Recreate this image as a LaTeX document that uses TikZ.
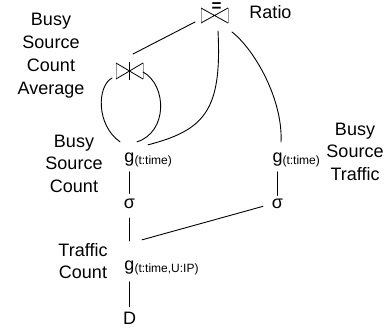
\documentclass[tikz,border=0pt]{standalone}
\usepackage{fontspec}
\setmainfont{Liberation Sans}
\usetikzlibrary{calc}
\tikzset{
  conn/.style={line width=0.9pt, line cap=round},
  sym/.style={inner sep=0pt, outer sep=0pt, anchor=base, font=\fontsize{18}{22}\selectfont},
  lbl/.style={inner sep=0pt, outer sep=0pt, align=center, anchor=north, font=\fontsize{18}{22.5}\selectfont},
  joinbox/.style={inner sep=0pt, outer sep=0pt, minimum width=27pt, minimum height=15pt},
  tri side/.style={line width=0.8pt, black!40},
  tri diag/.style={line width=0.8pt, black},
}
% grouping operator: g with its attribute list as a subscript
\newcommand\grp[1]{g\rlap{\smash{\raisebox{-2.5pt}{\fontsize{12}{12}\selectfont(#1)}}}}

\begin{document}
\begin{tikzpicture}[x=1pt,y=-1pt]
\useasboundingbox (0,0) rectangle (390,330);

% join operators
\node[joinbox] (j1) at (214.5,15.5) {};
\node[joinbox, minimum height=16pt] (j2) at (129.5,71) {};
\foreach \j in {j1,j2}{
  \draw[tri side] (\j.north west) -- (\j.south west) (\j.north east) -- (\j.south east);
  \draw[tri diag] (\j.north west) -- (\j.south east) (\j.south west) -- (\j.north east);
}
\draw[line width=1.8pt] ([yshift=1pt]j2.north) -- ([yshift=-1pt]j2.south);
\node[inner sep=0pt, font=\fontsize{17}{17}\selectfont\bfseries] (eq) at (216.5,7.5) {=};

% labels
\node[lbl, font=\fontsize{18}{23}\selectfont] (t1) at (51,13) {Busy\\Source\\Count\\Average};
\node[lbl] (t2) at (74,135) {Busy\\Source\\Count};
\node[lbl] (t3) at (355,123) {Busy\\Source\\Traffic};
\node[lbl, font=\fontsize{18}{22}\selectfont] (t4) at (83,243) {Traffic\\Count};
\node[sym] (ratio) at (270.5,18) {Ratio};

% operators
\node[sym] (g1) at (129.5,162) {\grp{t:time}};
\node[sym] (s1) at (129.5,208) {σ};
\node[sym] (g3) at (129.5,270) {\grp{t:time,U:IP}};
\node[sym] (d)  at (129.5,324) {D};
\node[sym] (g2) at (277.5,162) {\grp{t:time}};
\node[sym] (s2) at (277.5,208) {σ};

% plan edges
\draw[conn, shorten <=6pt, shorten >=5pt] (g1.south) -- (s1.north);
\draw[conn, shorten <=10pt, shorten >=19.5pt] (s1.south) -- (g3.north);
\draw[conn, shorten <=8pt, shorten >=5pt] (g3.south) -- (d.north);
\draw[conn, shorten <=6pt, shorten >=3pt] (g2.south) -- (s2.north);
\draw[conn] ($(s2.west)+(-9,3)$) -- ($(g3.north east)+(7.5,-20.5)$);

\draw[conn] ($(j1.south west)+(-6,-1)$) -- ($(j2.north)+(3.5,-9)$);
\draw[conn] ($(j2.south west)+(-4,-1)$) .. controls (97,86) and (96,125) .. ($(g1.north west)+(-4.5,-10.5)$);
\draw[conn] ($(j2.east)+(0,1)$) .. controls (167,85) and (168,132) .. ($(g1.north east)+(2.5,-10.5)$);
\draw[conn] ($(j1.south)+(3.5,8)$) .. controls (222,110) and (205,130) .. ($(g1.north east)+(13.5,-7.5)$);
\draw[conn] ($(j1.south east)+(4,9)$) .. controls (255,50) and (283,100) .. ($(g2.north east)+(-1.5,-10.5)$);
\end{tikzpicture}
\end{document}
